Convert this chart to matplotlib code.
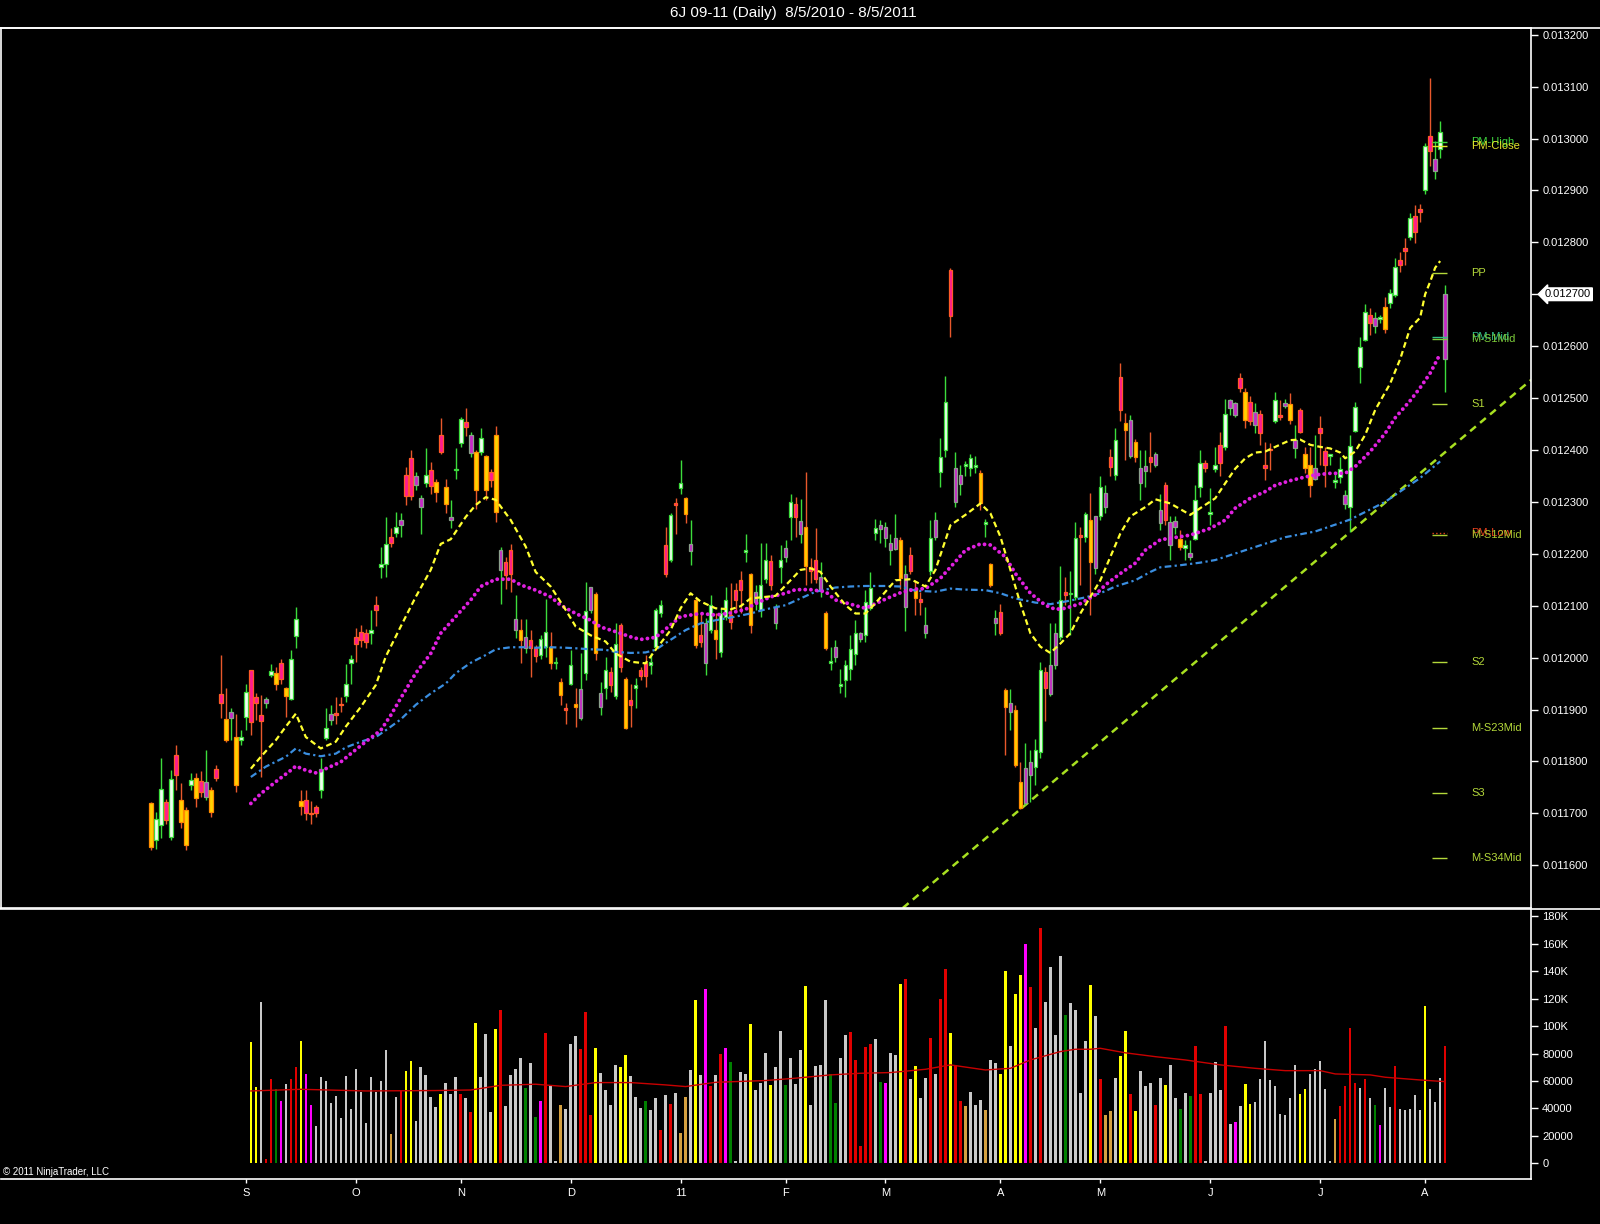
import numpy as np
import pandas as pd
import matplotlib
matplotlib.use('Agg')
import matplotlib.pyplot as plt
import matplotlib.transforms as mtransforms
from matplotlib.lines import Line2D

plt.rcParams['font.family'] = ['Liberation Sans', 'DejaVu Sans']

# Session dates (weekdays, two exchange holidays left out)
closed_days = ['2010-12-24', '2011-04-22']

# OHLC in units of 1e-6 (0.011719 -> 11719)
opens = [
    11719, 11648, 11677, 11722, 11655, 11812, 11725, 11706, 11754, 11769,
    11763, 11761, 11745, 11785, 11930, 11881, 11896, 11847, 11842, 11886,
    11977, 11925, 11889, 11920, 11966, 11971, 11989, 11941, 11921, 12042,
    11724, 11725, 11700, 11713, 11745, 11846, 11891, 11892, 11911, 11926,
    11990, 12040, 12050, 12048, 12047, 12101, 12174, 12180, 12233, 12241,
    12266, 12352, 12384, 12349, 12307, 12337, 12361, 12339, 12429, 12328,
    12271, 12361, 12414, 12454, 12429, 12397, 12397, 12388, 12358, 12429,
    12208, 12185, 12208, 12074, 12053, 12040, 12034, 12018, 12005, 12021,
    12021, 11990, 11953, 11902, 11950, 11910, 11939, 11970, 12137, 12122,
    11931, 11941, 11973, 11926, 12063, 11958, 11918, 11941, 11977, 11990,
    11986, 12021, 12085, 12217, 12188, 12298, 12326, 12307, 12218, 12111,
    12043, 12066, 12053, 12054, 12011, 12079, 12082, 12130, 12149, 12204,
    12162, 12127, 12092, 12151, 12186, 12097, 12175, 12212, 12270, 12296,
    12264, 12252, 12175, 12188, 12156, 12085, 11990, 12020, 11946, 11957,
    11979, 12007, 12047, 12043, 12095, 12241, 12255, 12251, 12221, 12230,
    12226, 12161, 12198, 12133, 12112, 12063, 12166, 12265, 12358, 12400,
    12746, 12365, 12352, 12370, 12365, 12368, 12355, 12258, 12180, 12077,
    12088, 11937, 11912, 11899, 11761, 11787, 11799, 11790, 11819, 11973,
    11986, 12047, 12039, 12127, 12122, 12117, 12235, 12233, 12266, 12272,
    12273, 12318, 12387, 12352, 12541, 12452, 12458, 12416, 12365, 12369,
    12387, 12392, 12284, 12332, 12262, 12264, 12228, 12212, 12202, 12228,
    12328, 12375, 12277, 12363, 12409, 12405, 12496, 12490, 12538, 12512,
    12493, 12474, 12469, 12371, 12402, 12456, 12466, 12491, 12489, 12420,
    12477, 12392, 12371, 12366, 12442, 12399, 12389, 12339, 12348, 12313,
    12291, 12437, 12559, 12611, 12660, 12654, 12652, 12675, 12684, 12699,
    12766, 12789, 12811, 12851, 12865, 12900, 13004, 12960, 12980, 12701,
]
highs = [
    11722, 11703, 11806, 11728, 11783, 11831, 11758, 11713, 11777, 11777,
    11781, 11822, 11751, 11793, 12005, 11941, 11902, 11892, 11860, 11950,
    11977, 11931, 11928, 11925, 11988, 11982, 11997, 11944, 12014, 12098,
    11745, 11745, 11724, 11716, 11806, 11902, 11909, 11925, 11925, 11988,
    12005, 12058, 12063, 12056, 12092, 12119, 12214, 12271, 12249, 12281,
    12278, 12368, 12400, 12358, 12313, 12403, 12377, 12345, 12461, 12345,
    12303, 12403, 12464, 12480, 12435, 12400, 12442, 12390, 12364, 12446,
    12214, 12194, 12219, 12120, 12075, 12074, 12053, 12024, 12043, 12112,
    12050, 12002, 11960, 11912, 12015, 11941, 12008, 12146, 12137, 12127,
    11953, 12002, 11982, 12066, 12066, 11963, 11950, 11960, 11982, 12005,
    12008, 12095, 12111, 12252, 12278, 12307, 12381, 12310, 12266, 12114,
    12085, 12076, 12120, 12085, 12095, 12136, 12143, 12143, 12167, 12239,
    12163, 12140, 12220, 12220, 12198, 12104, 12217, 12226, 12316, 12310,
    12305, 12358, 12191, 12249, 12185, 12089, 12021, 12034, 11979, 11995,
    12043, 12072, 12050, 12130, 12165, 12268, 12265, 12262, 12239, 12276,
    12233, 12179, 12214, 12149, 12127, 12098, 12265, 12281, 12423, 12543,
    12750, 12397, 12371, 12378, 12393, 12388, 12361, 12268, 12183, 12092,
    12104, 11941, 11939, 11909, 11799, 11835, 11822, 11844, 11992, 11982,
    12066, 12066, 12176, 12156, 12166, 12262, 12252, 12281, 12317, 12272,
    12349, 12333, 12401, 12442, 12567, 12471, 12467, 12422, 12400, 12400,
    12435, 12397, 12316, 12339, 12272, 12272, 12246, 12227, 12227, 12332,
    12400, 12381, 12326, 12406, 12435, 12499, 12499, 12493, 12548, 12519,
    12504, 12490, 12477, 12416, 12414, 12512, 12496, 12499, 12509, 12448,
    12480, 12406, 12406, 12429, 12465, 12406, 12393, 12355, 12387, 12323,
    12429, 12493, 12618, 12682, 12673, 12666, 12660, 12695, 12711, 12769,
    12782, 12808, 12856, 12872, 12874, 12991, 13116, 12996, 13033, 12718,
]
lows = [
    11630, 11632, 11652, 11680, 11648, 11745, 11671, 11629, 11745, 11713,
    11731, 11725, 11693, 11763, 11883, 11838, 11841, 11742, 11831, 11860,
    11851, 11880, 11770, 11902, 11963, 11937, 11950, 11886, 11918, 12018,
    11697, 11687, 11680, 11693, 11729, 11841, 11871, 11873, 11896, 11915,
    11950, 11992, 12021, 12018, 12027, 12060, 12153, 12156, 12214, 12233,
    12233, 12294, 12303, 12323, 12239, 12329, 12316, 12300, 12393, 12278,
    12249, 12345, 12406, 12426, 12387, 12287, 12390, 12304, 12329, 12262,
    12104, 12133, 12127, 12037, 11989, 12008, 11963, 11992, 11998, 12002,
    11979, 11979, 11909, 11873, 11947, 11867, 11880, 11957, 12085, 11995,
    11889, 11921, 11934, 11921, 11973, 11863, 11867, 11902, 11957, 11944,
    11969, 12018, 12079, 12156, 12185, 12239, 12316, 12259, 12178, 12018,
    12021, 11966, 12047, 11998, 12002, 12072, 12056, 12088, 12085, 12185,
    12047, 12092, 12079, 12143, 12130, 12056, 12143, 12185, 12226, 12233,
    12220, 12140, 12143, 12143, 12117, 12014, 11976, 11992, 11931, 11925,
    11957, 11985, 12031, 12031, 12091, 12226, 12220, 12214, 12178, 12207,
    12133, 12051, 12162, 12082, 12082, 12037, 12159, 12227, 12329, 12386,
    12618, 12291, 12313, 12349, 12349, 12355, 12284, 12233, 12137, 12043,
    12043, 11812, 11860, 11790, 11708, 11716, 11722, 11755, 11806, 11877,
    11926, 11979, 12034, 12101, 12043, 12111, 12140, 12223, 12082, 12162,
    12265, 12278, 12349, 12342, 12455, 12381, 12384, 12377, 12304, 12329,
    12358, 12368, 12246, 12255, 12188, 12239, 12207, 12188, 12188, 12227,
    12310, 12358, 12255, 12358, 12349, 12400, 12467, 12464, 12512, 12442,
    12448, 12432, 12410, 12342, 12362, 12452, 12457, 12480, 12451, 12384,
    12432, 12355, 12310, 12342, 12371, 12329, 12371, 12326, 12336, 12287,
    12242, 12435, 12529, 12609, 12621, 12625, 12644, 12626, 12673, 12695,
    12743, 12756, 12804, 12798, 12840, 12894, 12947, 12923, 12963, 12512,
]
closes = [
    11636, 11690, 11746, 11687, 11767, 11774, 11684, 11639, 11764, 11729,
    11741, 11731, 11703, 11769, 11912, 11842, 11883, 11754, 11847, 11934,
    11876, 11913, 11878, 11913, 11975, 11949, 11958, 11926, 11997, 12075,
    11714, 11700, 11698, 11700, 11786, 11864, 11880, 11890, 11909, 11950,
    11997, 12027, 12034, 12031, 12054, 12092, 12180, 12219, 12220, 12252,
    12255, 12311, 12311, 12332, 12291, 12352, 12331, 12320, 12397, 12295,
    12265, 12364, 12459, 12444, 12395, 12323, 12424, 12323, 12343, 12281,
    12169, 12160, 12161, 12054, 12034, 12018, 12018, 12003, 12035, 12050,
    11989, 11992, 11928, 11900, 11985, 11904, 11883, 12090, 12092, 12008,
    11905, 11977, 11947, 12027, 11982, 11865, 11909, 11947, 11964, 11964,
    11992, 12092, 12101, 12162, 12275, 12294, 12336, 12277, 12205, 12024,
    12031, 11989, 12101, 12035, 12085, 12111, 12069, 12111, 12130, 12206,
    12063, 12108, 12140, 12189, 12140, 12067, 12189, 12193, 12300, 12270,
    12239, 12176, 12167, 12151, 12131, 12018, 11994, 12002, 11948, 11986,
    12016, 12048, 12035, 12108, 12135, 12249, 12247, 12230, 12207, 12209,
    12153, 12097, 12166, 12114, 12108, 12048, 12230, 12232, 12386, 12493,
    12658, 12300, 12334, 12372, 12384, 12370, 12297, 12260, 12140, 12066,
    12047, 11905, 11896, 11793, 11710, 11719, 11774, 11822, 11976, 11941,
    11930, 11986, 12111, 12121, 12125, 12230, 12233, 12277, 12185, 12172,
    12328, 12291, 12368, 12419, 12477, 12438, 12388, 12387, 12336, 12360,
    12377, 12371, 12259, 12265, 12217, 12252, 12214, 12217, 12193, 12304,
    12375, 12365, 12281, 12371, 12374, 12469, 12480, 12467, 12519, 12458,
    12455, 12448, 12433, 12365, 12400, 12497, 12464, 12485, 12458, 12403,
    12435, 12366, 12332, 12345, 12433, 12371, 12390, 12343, 12364, 12296,
    12408, 12482, 12598, 12665, 12644, 12638, 12656, 12634, 12702, 12752,
    12756, 12784, 12846, 12819, 12859, 12986, 12976, 12938, 13013, 12575,
]
# bar paint: U up, D down, Y yellow, P purple
bar_style = ''.join([
    'YUUDUDYYUY', 'DPYDDYPYUU', 'DDDPUYDYUU', 'YDDDUUPDDU', 'UDDDUDUUDU',
    'PDDPPUDYDY', 'PUUDPYUYDY', 'PDDPYPDDUU', 'YUYDUYPUPY', 'PUDUDYDUDD',
    'UUUDUDUYPY', 'DPUYUUDDDU', 'YPUUDPUPUD', 'PYDDPYUPUU', 'UUPUUUPPPP',
    'YPDYDPUPUU', 'DPPUUUYUYP', 'DYPYYPPUUD', 'PPUDUUDUYP', 'UPDUDYPYPP',
    'DPPDPPYUPU', 'UDUUDUPPDY', 'DPDDDUDPYP', 'DYYPDDUUUP', 'UUUUDPUYUU',
    'DDUDDUDPUP',
])
last_price = 0.012700

# moving averages (bar index, value in 1e-6)
ma_fast_idx = [20, 22, 25, 27, 29, 31, 34, 37, 39, 42, 45, 47, 50, 53, 56, 58, 60, 63, 65, 67,
               69, 72, 75, 77, 80, 83, 85, 88, 91, 93, 96, 99, 101, 104, 106, 108, 110, 113, 116, 118,
               120, 123, 125, 128, 130, 132, 134, 136, 139, 141, 143, 145, 147, 149, 152, 155, 157, 160, 163, 166,
               168, 170, 172, 174, 176, 178, 180, 182, 184, 186, 188, 190, 192, 194, 196, 199, 201, 204, 208, 210,
               213, 215, 217, 219, 221, 223, 225, 228, 230, 232, 234, 236, 238, 239, 241, 243, 245, 248, 250, 252,
               254, 255, 256, 257, 258]
ma_fast = [11786, 11809, 11841, 11867, 11892, 11847, 11825, 11838, 11867, 11905, 11947, 12002, 12060, 12117, 12169, 12219, 12228, 12271, 12294, 12309,
           12304, 12265, 12214, 12165, 12137, 12092, 12060, 12043, 12031, 12008, 11992, 11989, 12015, 12053, 12095, 12124, 12108, 12095, 12093, 12099,
           12114, 12117, 12119, 12149, 12169, 12172, 12165, 12137, 12101, 12085, 12085, 12105, 12127, 12149, 12151, 12137, 12169, 12255, 12275, 12297,
           12278, 12233, 12169, 12104, 12047, 12021, 12009, 12027, 12047, 12085, 12117, 12149, 12194, 12239, 12272, 12290, 12305, 12297, 12275, 12288,
           12307, 12336, 12364, 12384, 12395, 12397, 12406, 12419, 12420, 12410, 12406, 12403, 12395, 12384, 12397, 12429, 12477, 12528, 12575, 12635,
           12655, 12700, 12724, 12751, 12764]

ma_mid_idx = [20, 22, 25, 28, 29, 31, 33, 35, 38, 40, 43, 46, 48, 50, 53, 56, 58, 61, 64, 66,
              69, 72, 74, 77, 80, 82, 85, 88, 90, 93, 96, 98, 101, 103, 106, 110, 113, 116, 119, 121,
              124, 127, 129, 132, 135, 137, 140, 143, 145, 148, 150, 153, 155, 158, 161, 163, 166, 168, 171, 173,
              176, 179, 181, 183, 186, 189, 191, 194, 197, 199, 202, 204, 208, 212, 215, 217, 220, 223, 225, 228,
              231, 233, 236, 239, 241, 244, 247, 249, 252, 254, 256, 258]
ma_mid = [11719, 11738, 11761, 11783, 11791, 11783, 11778, 11786, 11799, 11815, 11838, 11860, 11889, 11922, 11970, 12008, 12047, 12079, 12111, 12137,
          12151, 12151, 12140, 12130, 12117, 12101, 12085, 12072, 12059, 12050, 12040, 12035, 12039, 12055, 12079, 12085, 12082, 12086, 12093, 12104,
          12117, 12124, 12131, 12131, 12127, 12111, 12103, 12095, 12104, 12117, 12125, 12132, 12133, 12153, 12185, 12207, 12219, 12217, 12194, 12162,
          12124, 12101, 12093, 12095, 12104, 12121, 12140, 12162, 12182, 12207, 12227, 12230, 12236, 12249, 12265, 12288, 12307, 12320, 12332, 12341,
          12348, 12352, 12355, 12355, 12368, 12397, 12432, 12462, 12495, 12520, 12548, 12585]

ma_slow_idx = [20, 23, 27, 29, 31, 34, 37, 39, 42, 45, 47, 50, 53, 56, 59, 61, 64, 67, 69, 72,
               75, 77, 80, 83, 85, 88, 91, 93, 96, 99, 101, 103, 107, 110, 113, 117, 120, 123, 127, 130,
               133, 137, 140, 143, 147, 150, 153, 157, 160, 163, 167, 170, 173, 177, 180, 183, 187, 190, 193, 197,
               200, 202, 206, 210, 213, 220, 227, 233, 240, 247, 250, 254, 258]
ma_slow = [11770, 11790, 11809, 11825, 11815, 11810, 11815, 11827, 11838, 11847, 11860, 11881, 11909, 11931, 11950, 11970, 11990, 12005, 12016, 12020,
           12020, 12019, 12020, 12019, 12018, 12016, 12015, 12011, 12009, 12010, 12015, 12028, 12053, 12066, 12072, 12079, 12085, 12093, 12101, 12114,
           12127, 12135, 12137, 12138, 12138, 12137, 12129, 12127, 12133, 12131, 12130, 12124, 12114, 12106, 12103, 12108, 12116, 12124, 12137, 12149,
           12165, 12174, 12178, 12183, 12188, 12210, 12232, 12243, 12266, 12300, 12320, 12346, 12378]

# trend line anchored on two swing lows (bar index, price)
trend_idx = [174, 240]
trend_price = [0.011708, 0.012242]

# pivot levels shown at the right edge
pivot_names = ['PM-High', 'PM-Close', 'PP', 'PM-Mid', 'M-S1Mid', 'S1', 'PM-Low', 'M-S12Mid',
               'S2', 'M-S23Mid', 'S3', 'M-S34Mid']
pivot_values = [0.012993, 0.012986, 0.012741, 0.012618, 0.012613, 0.012489, 0.012241, 0.012236,
                0.011992, 0.011865, 0.011740, 0.011613]
pivot_colors = ['#3ED63E', '#E6E62A', '#B4D83A', '#33C08A', '#7CCB3A', '#B4D83A', '#E8421E', '#A8C830',
                '#B4D83A', '#B4D83A', '#B4D83A', '#B4D83A']

# volume in thousands, from bar 20 on
vol_start = 20
volume_k = [
    88.7, 55.9, 117.8, 3.0, 61.5, 54.2, 45.4, 58.1, 61.5, 70.5,
    89.4, 65.3, 42.8, 27.2, 63.0, 60.0, 44.2, 49.1, 33.0, 63.9,
    39.6, 68.8, 52.2, 29.6, 63.0, 52.0, 60.0, 82.6, 21.4, 48.3,
    53.0, 67.3, 74.6, 31.1, 70.2, 64.4, 48.3, 41.1, 50.5, 58.6,
    50.5, 63.0, 50.5, 47.6, 37.4, 102.3, 63.0, 94.3, 37.4, 97.9,
    111.7, 41.8, 64.4, 68.8, 76.8, 54.9, 73.1, 34.0, 45.4, 95.0,
    57.1, 1.5, 42.5, 39.6, 87.0, 92.8, 83.3, 110.3, 35.2, 84.1,
    65.8, 53.4, 42.5, 71.7, 70.2, 79.0, 63.6, 48.3, 40.3, 45.4,
    38.9, 47.6, 24.3, 49.8, 43.2, 51.3, 22.1, 48.3, 68.0, 119.0,
    64.4, 127.3, 56.4, 64.4, 79.7, 84.1, 73.8, 1.5, 66.6, 65.1,
    101.5, 53.4, 58.6, 80.4, 57.1, 70.2, 96.4, 57.1, 76.8, 57.8,
    82.6, 129.2, 42.5, 70.9, 71.7, 119.0, 65.1, 44.2, 76.8, 93.5,
    95.7, 75.3, 12.6, 84.8, 87.0, 90.6, 59.3, 58.6, 80.4, 79.0,
    130.7, 134.3, 61.5, 70.9, 47.6, 62.2, 91.3, 65.1, 119.8, 141.6,
    95.0, 71.7, 45.4, 41.8, 52.0, 42.5, 46.2, 38.9, 75.3, 73.1,
    65.1, 140.2, 85.5, 123.4, 137.2, 159.8, 128.3, 98.6, 171.5, 117.6,
    143.1, 93.5, 151.1, 108.1, 116.8, 111.7, 51.5, 89.2, 130.0, 107.4,
    61.5, 35.2, 38.1, 62.2, 78.2, 96.4, 50.5, 38.1, 67.3, 56.4,
    58.6, 42.5, 62.2, 57.1, 71.7, 47.6, 39.6, 51.3, 49.1, 85.5,
    50.5, 1.5, 51.3, 73.8, 53.4, 100.1, 28.7, 30.1, 41.8, 57.8,
    43.2, 44.7, 61.5, 89.2, 60.7, 56.4, 36.0, 35.2, 47.6, 71.7,
    50.5, 54.2, 65.1, 68.8, 74.6, 54.2, 1.5, 32.3, 41.8, 56.4,
    98.6, 58.6, 54.9, 61.5, 47.6, 42.5, 28.0, 54.9, 41.1, 70.9,
    39.6, 38.9, 39.6, 49.8, 39.0, 114.6, 54.0, 45.0, 62.0, 85.5,
]
volume_paint = ''.join([
    'YYWRRGMWRR', 'YMMWWWWWWW', 'WWWWWWWWTW', 'RYYWWWWWYW', 'WWRWRYWWWY',
    'RWWWWGWGMR', 'WWTWWWRRRY', 'WWWWYYWWWG', 'WWRWRWTTWY', 'WMRWRMGWWW',
    'YWWWYWWGWW', 'WYWWWWGGWW', 'RRRRRWGMWW', 'YRWYWWRWRR', 'YRRTWWWTWW',
    'YYWYYMRWRW', 'WWWGWWWWYW', 'RTTWYYRYWW', 'WRWYWWGWGR', 'RWWWWRWMWY',
    'YWWWWWWWWW', 'YYWWWWWTRR', 'RRWRWGMWWR', 'WWWWWYWWWR',
])
vol_ma_idx = [20, 30, 43, 57, 64, 70, 77, 83, 89, 96, 103, 107, 113, 123, 129, 136, 142, 148, 155, 160,
              167, 172, 176, 182, 185, 188, 190, 195, 201, 207, 214, 221, 227, 234, 237, 244, 247, 254, 259]
vol_ma_k = [52.7, 53.9, 52.7, 53.0, 53.4, 56.8, 57.6, 55.9, 58.8, 58.8, 57.1, 55.9, 59.0, 60.3, 62.0, 64.4, 65.6, 66.1, 68.5, 71.7,
            68.0, 69.2, 75.3, 81.4, 83.1, 83.1, 83.8, 80.5, 77.7, 75.3, 71.7, 69.2, 67.5, 67.5, 65.1, 64.4, 62.7, 60.7, 59.5]
vol_tick_labels = ['0', '20000', '40000', '60000', '80000', '100K', '120K', '140K', '160K', '180K']

# ---------------------------------------------------------------
dates = pd.bdate_range('2010-08-05', '2011-08-05').drop(pd.to_datetime(closed_days))
x = np.arange(len(dates))
o = np.array(opens) * 1e-6
h = np.array(highs) * 1e-6
l = np.array(lows) * 1e-6
c = np.array(closes) * 1e-6

paint = {
    'U': ('#F0FFF0', '#3CDC3C', '#3CDC3C'),
    'D': ('#FF1A90', '#FF5A28', '#E8582C'),
    'Y': ('#FFD200', '#FF8C00', '#E8582C'),
    'P': ('#C828C8', '#8CA08C', '#3CDC3C'),
}
fills = [paint[s][0] for s in bar_style]
edges = [paint[s][1] for s in bar_style]
wicks = [paint[s][2] for s in bar_style]

fig = plt.figure(figsize=(16, 12.24), dpi=100, facecolor='black')
ax = fig.add_axes([0.000625, 0.2582, 0.9563, 0.7189], facecolor='black')
axv = fig.add_axes([0.000625, 0.0371, 0.9563, 0.2194], facecolor='black')

xlim = (-30.0, 276.2)

# candles
ax.vlines(x, l, h, colors=wicks, linewidth=1.0, zorder=3)
body_lo = np.minimum(o, c)
body_h = np.maximum(np.abs(c - o), 2.5e-6)
ax.bar(x, body_h, bottom=body_lo, width=0.72, color=fills, edgecolor=edges,
       linewidth=0.9, zorder=4)

# moving averages
ax.plot(ma_slow_idx, np.array(ma_slow) * 1e-6, color='#3A8EE0', lw=1.6,
        dashes=(3, 1.5, 1, 1.5), zorder=5)
ax.plot(ma_mid_idx, np.array(ma_mid) * 1e-6, color='#E020E0', lw=2.8,
        linestyle=(0, (0.01, 1.45)), dash_capstyle='round', zorder=5)
ax.plot(ma_fast_idx, np.array(ma_fast) * 1e-6, color='#FFFF30', lw=1.6,
        dashes=(2.6, 1.6), zorder=6)

# trend line
ax.axline((trend_idx[0], trend_price[0]), (trend_idx[1], trend_price[1]),
          color='#A8E020', lw=1.8, dashes=(3, 2.2), zorder=2)

# pivot levels
for name, val, col in zip(pivot_names, pivot_values, pivot_colors):
    ls = ':' if name == 'PM-Low' else '-'
    ax.hlines(val, 256.4, 259.4, colors=col, lw=1.0, linestyles=ls, zorder=6)
    ax.text(264.2, val, name, color=col, fontsize=8, ha='left', va='center', zorder=7)

ax.set_xlim(*xlim)
ax.set_ylim(0.0115177, 0.0132129)
ax.yaxis.tick_right()
yt = np.arange(11600, 13201, 100) * 1e-6
ax.set_yticks(yt)
ax.set_yticklabels([f'{v:.6f}' for v in yt])
ax.tick_params(axis='y', colors='white', labelsize=8, length=5, width=1, pad=3)
ax.tick_params(axis='x', bottom=False, labelbottom=False)
for side in ['top', 'right', 'left', 'bottom']:
    ax.spines[side].set_color('white')
    ax.spines[side].set_linewidth(1.2)

# last price flag
trans = mtransforms.blended_transform_factory(ax.transAxes, ax.transData)
ax.text(1.009, last_price, f'{last_price:.6f}', transform=trans, ha='left', va='center',
        fontsize=8, color='black', clip_on=False,
        bbox=dict(boxstyle='larrow,pad=0.12', fc='white', ec='white'))

# volume panel
vx = np.arange(vol_start, vol_start + len(volume_k))
vcol = {'Y': '#FFFF00', 'W': '#C8C8C8', 'R': '#E00000', 'M': '#FF00FF',
        'G': '#008000', 'T': '#D4A040'}
axv.bar(vx, np.array(volume_k) * 1000, width=0.5, color=[vcol[p] for p in volume_paint],
        linewidth=0, zorder=3)
axv.plot(vol_ma_idx, np.array(vol_ma_k) * 1000, color='#C80000', lw=1.0, zorder=4)
axv.set_xlim(*xlim)
axv.set_ylim(-11200, 184600)
axv.yaxis.tick_right()
axv.set_yticks(np.arange(0, 180001, 20000))
axv.set_yticklabels(vol_tick_labels)
axv.tick_params(axis='y', colors='white', labelsize=8, length=5, width=1, pad=3)

mpos = [i for i in range(1, len(dates)) if dates[i].month != dates[i - 1].month]
mlab = [dates[i].strftime('%y') if dates[i].month == 1 else dates[i].strftime('%b')[0] for i in mpos]
axv.set_xticks(mpos)
axv.set_xticklabels(mlab)
axv.tick_params(axis='x', colors='white', labelsize=8, length=3, width=1, pad=4)
for side in ['top', 'left']:
    axv.spines[side].set_visible(False)
for side in ['right', 'bottom']:
    axv.spines[side].set_color('white')
    axv.spines[side].set_linewidth(1.2)

# full-width frame lines
for yf in [1 - 28 / 1224, 1 - 909 / 1224]:
    fig.add_artist(Line2D([0, 1], [yf, yf], color='white', lw=1.2))

fig.text(0.4956, 1 - 12.5 / 1224, '6J 09-11 (Daily)  8/5/2010 - 8/5/2011', ha='center', va='center',
         color='white', fontsize=11, family=['Liberation Sans Narrow', 'Liberation Sans', 'DejaVu Sans'])
fig.text(0.002, 1 - 1172 / 1224, '\u00a9 2011 NinjaTrader, LLC', ha='left', va='center',
         color='white', fontsize=7)

fig.savefig('out.png', dpi=100, facecolor='black')
